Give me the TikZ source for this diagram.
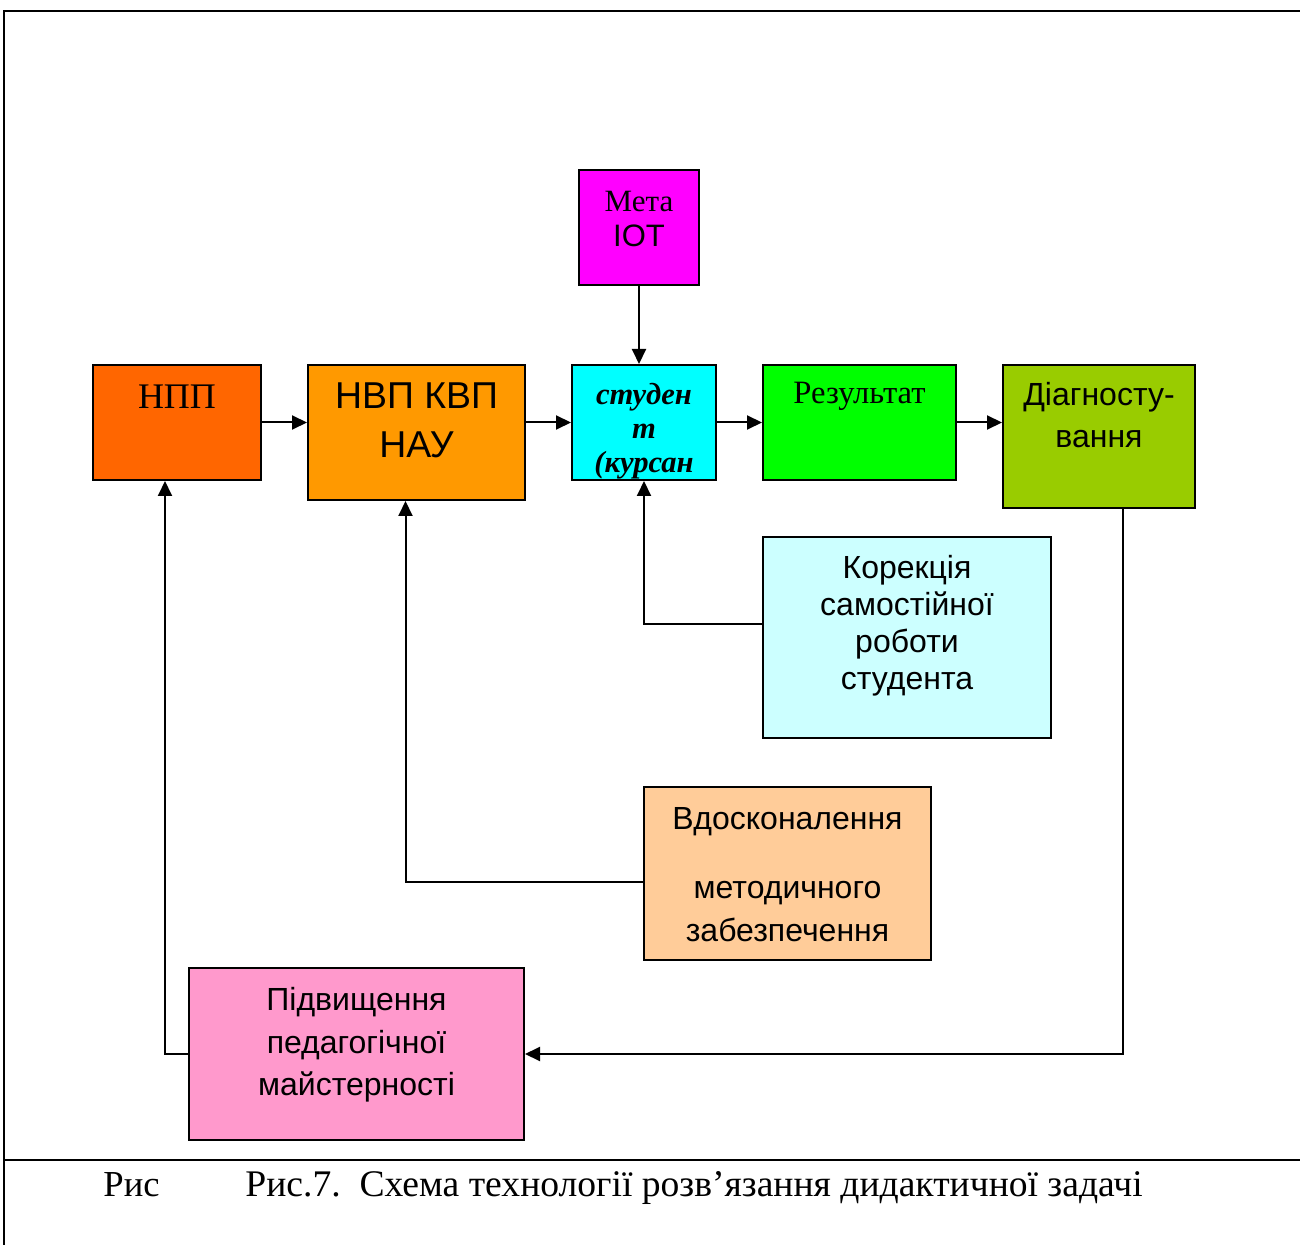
\documentclass[tikz,border=0pt]{standalone}
\usepackage{fontspec}
\setmainfont{Liberation Serif}
\setsansfont{Liberation Sans}
\usetikzlibrary{arrows.meta,fit,calc}

\definecolor{nppcol}{HTML}{FF6600}
\definecolor{nvpcol}{HTML}{FF9900}
\definecolor{studcol}{HTML}{00FFFF}
\definecolor{metacol}{HTML}{FF00FF}
\definecolor{rezcol}{HTML}{00FF00}
\definecolor{diagcol}{HTML}{99CC00}
\definecolor{korcol}{HTML}{CCFFFF}
\definecolor{vdoscol}{HTML}{FFCC99}
\definecolor{pidcol}{HTML}{FF99CC}

\tikzset{
  box/.style={draw=black, line width=1pt, inner sep=0pt},
  txt/.style={anchor=north, align=center, inner sep=0pt},
  link/.style={line width=1pt, -{Triangle[length=7.5pt,width=7pt]}},
  frameline/.style={line width=1pt}
}

\begin{document}
\begin{tikzpicture}[x=0.5pt,y=-0.5pt]
    \useasboundingbox (0,0) rectangle (1300,1245);
    % FRAME
    \draw[frameline] (1300,11) -- (4,11) -- (4,1245);
    \draw[frameline] (4,1160) -- (1300,1160);
    % BOXES
    \node[box, fill=metacol, fit={(579,170) (699,285)}] (meta) {};
    \node[box, fill=nppcol, fit={(93,365) (261,480)}] (npp) {};
    \node[box, fill=nvpcol, fit={(308,365) (525,500)}] (nvp) {};
    \node[box, fill=studcol, fit={(572,365) (716,480)}] (stud) {};
    \node[box, fill=rezcol, fit={(763,365) (956,480)}] (rez) {};
    \node[box, fill=diagcol, fit={(1003,365) (1195,508)}] (diag) {};
    \node[box, fill=korcol, fit={(763,537) (1051,738)}] (kor) {};
    \node[box, fill=vdoscol, fit={(644,787) (931,960)}] (vdos) {};
    \node[box, fill=pidcol, fit={(189,968) (524,1140)}] (pid) {};
    % TEXTS
    \node[txt, font=\fontsize{15.5}{17.5}\selectfont] (metatxt) at ($(meta.north)+(0,22)$) {Мета\\\sffamily ІОТ};
    \node[txt, font=\fontsize{18}{22}\selectfont] (npptxt) at ($(npp.north)+(0,21)$) {НПП};
    \node[txt, font=\sffamily\fontsize{18.7}{24.5}\selectfont] (nvptxt) at ($(nvp.north)+(0,18)$) {НВП КВП\\НАУ};
    \begin{scope}
      \clip ($(stud.south west)+(1,-1)$) rectangle ($(stud.north east)+(-1,1)$);
      \node[txt, font=\bfseries\itshape\fontsize{15.3}{17}\selectfont] (studtxt) at ($(stud.north)+(0,18.5)$) {студен\\т\\(курсан};
    \end{scope}
    \node[txt, font=\fontsize{16.3}{20}\selectfont] (reztxt) at ($(rez.north)+(0,18)$) {Результат};
    \node[txt, font=\sffamily\fontsize{16}{21}\selectfont] (diagtxt) at ($(diag.north)+(0,18)$) {Діагносту-\\вання};
    \node[txt, font=\sffamily\fontsize{16}{18.5}\selectfont] (kortxt) at ($(kor.north)+(0,19)$) {Корекція\\самостійної\\роботи\\студента};
    \node[txt, font=\sffamily\fontsize{16}{21.5}\selectfont] (vdostxt) at ($(vdos.north)+(0,21)$) {Вдосконалення\\[13pt]методичного\\забезпечення};
    \node[txt, font=\sffamily\fontsize{16}{21.25}\selectfont] (pidtxt) at ($(pid.north)+(0,20)$) {Підвищення\\педагогічної\\майстерності};
    % ARROWS
    \draw[link] (npp.east) -- (npp.east -| nvp.west);
    \draw[link] (stud.west -| nvp.east) -- (stud.west);
    \draw[link] (stud.east) -- (rez.west);
    \draw[link] (rez.east) -- (rez.east -| diag.west);
    \draw[link] (meta.south) -- (meta.south |- stud.north);
    \draw[link] ($(kor.west)+(0,-14)$) -| (stud.south);
    \draw[link] ($(vdos.west)+(0,8)$) -| ($(nvp.south)+(-11,0)$);
    \draw[link] ($(diag.south)+(24,0)$) |- (pid.east);
    \draw[link] (pid.west) -| ($(npp.south)+(-12,0)$);
    % CAPTION
    \node[anchor=base west, inner sep=0pt, font=\fontsize{18.3}{22}\selectfont] (rys) at (103,1196) {Рис};
    \node[anchor=base west, inner sep=0pt, font=\fontsize{18.8}{22}\selectfont] (caption) at (245,1196) {Рис.7.\ \ Схема технології розв’язання дидактичної задачі};
\end{tikzpicture}
\end{document}
